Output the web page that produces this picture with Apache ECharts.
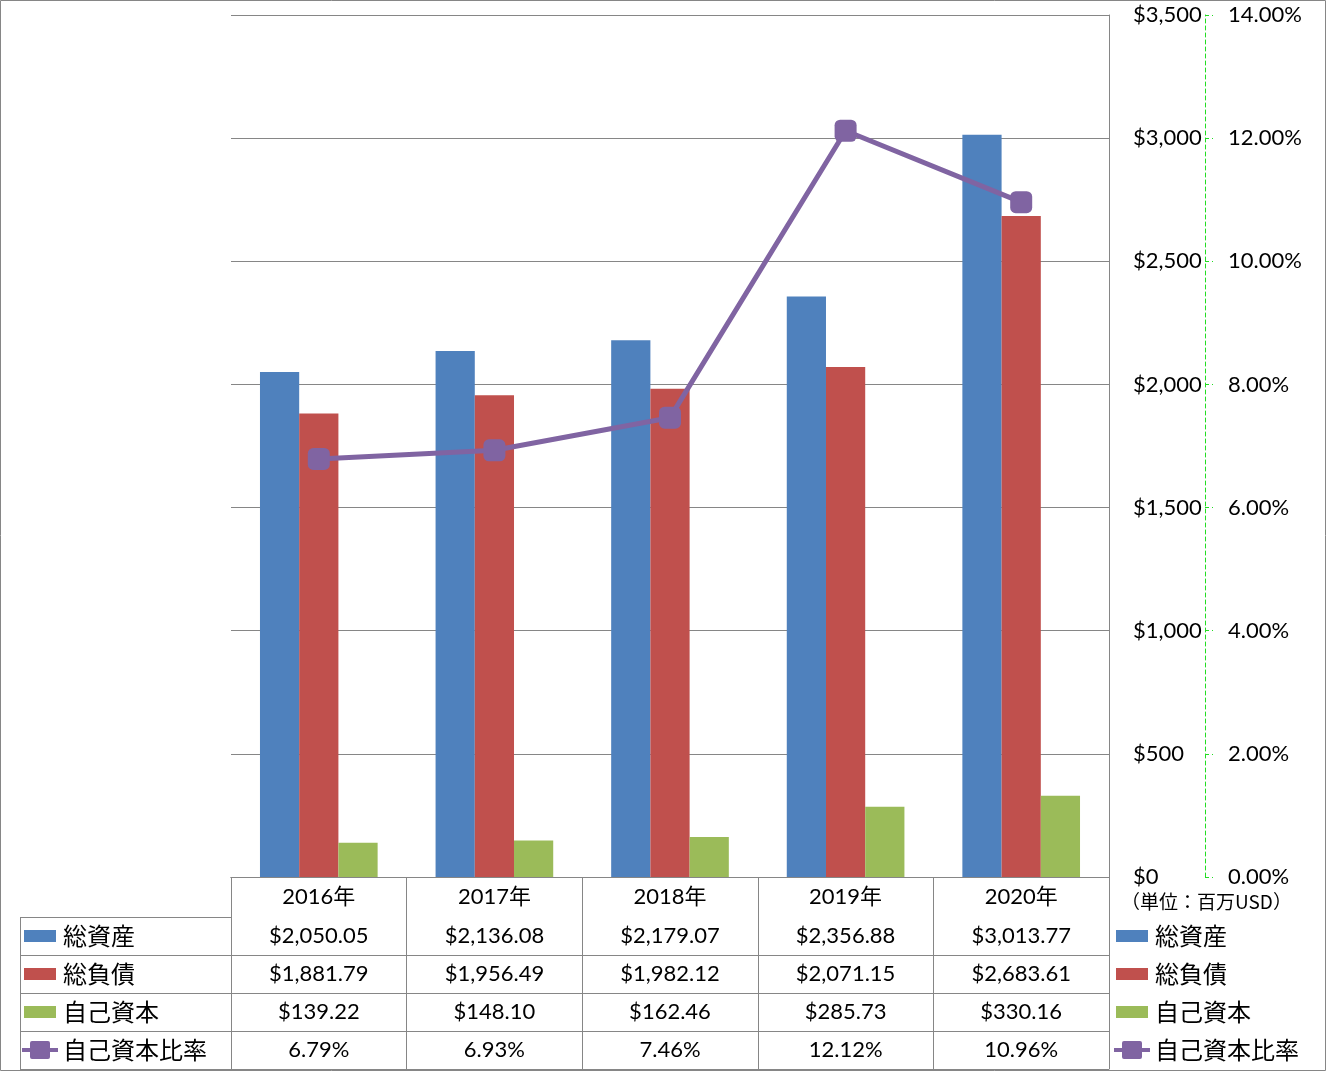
<!DOCTYPE html>
<html><head><meta charset="utf-8">
<script src="https://cdn.jsdelivr.net/npm/echarts@6/dist/echarts.min.js"></script>
<style>html,body{margin:0;padding:0;background:#fff}#c{width:1326px;height:1071px}</style>
</head><body><div id="c"></div>
<script>
const years = ['2016年','2017年','2018年','2019年','2020年'];
const totalAssets = [2050.05, 2136.08, 2179.07, 2356.88, 3013.77];
const totalLiabilities = [1881.79, 1956.49, 1982.12, 2071.15, 2683.61];
const equity = [139.22, 148.10, 162.46, 285.73, 330.16];
const equityRatio = [6.79, 6.93, 7.46, 12.12, 10.96];
const names = ['総資産','総負債','自己資本','自己資本比率'];
const unitText = '（単位：百万USD）';

const FONT = "Lato, 'Noto Sans CJK JP', sans-serif";
const JFONT = "'Noto Sans CJK JP', sans-serif";
const GRAY = '#868686';
const money = v => '$' + v.toLocaleString('en-US', {minimumFractionDigits: 2, maximumFractionDigits: 2});
const pct = v => v.toFixed(2) + '%';
const rows = [totalAssets.map(money), totalLiabilities.map(money), equity.map(money), equityRatio.map(pct)];

const chart = echarts.init(document.getElementById('c'));
const xBase = {
  type: 'category', data: years, position: 'bottom', gridIndex: 0,
  axisLine: {show: true, lineStyle: {color: GRAY, width: 1}},
  axisTick: {show: false},
  splitLine: {show: false}
};
const xAxes = [Object.assign({}, xBase, {
  axisTick: {show: true, length: 192, lineStyle: {color: GRAY, width: 1}},
  axisLabel: {fontFamily: FONT, fontSize: 22, color: '#000', margin: 20, verticalAlign: 'middle', interval: 0}
})];
rows.forEach((r, i) => {
  xAxes.push(Object.assign({}, xBase, {
    offset: 40 + 38 * i,
    axisLabel: {fontFamily: FONT, fontSize: 22, color: '#000', margin: 19, verticalAlign: 'middle', interval: 0,
      formatter: (v, idx) => r[idx]}
  }));
});
xAxes.push(Object.assign({}, xBase, {offset: 192, axisLabel: {show: false}}));

const gLines = [];
[917, 955, 993, 1031, 1069].forEach(y => gLines.push({type: 'line', shape: {x1: 20, y1: y + 0.5, x2: 232, y2: y + 0.5}, style: {stroke: GRAY, lineWidth: 1}}));
gLines.push({type: 'line', shape: {x1: 20.5, y1: 917, x2: 20.5, y2: 1070}, style: {stroke: GRAY, lineWidth: 1}});
gLines.push({type: 'rect', shape: {x: 0.5, y: 0.5, width: 1325, height: 1070}, style: {fill: 'none', stroke: GRAY, lineWidth: 1}});
gLines.push({type: 'text', left: 1121, top: 892, style: {text: unitText, fontFamily: JFONT, fontSize: 19, fill: '#000'}});

// icon paths (36x20 box); tiny corner marks keep the bounding box fixed
const barIcon = 'path://M0,0L0.01,0L0,0.01Z M36,20L35.99,20L36,19.99Z M2,4L34,4L34,16L2,16Z';
const lineIcon = 'path://M0,0L0.01,0L0,0.01Z M36,20L35.99,20L36,19.99Z M0,8L8,8L8,3Q8,1 10,1L26,1Q28,1 28,3L28,8L36,8L36,12L28,12L28,17Q28,19 26,19L10,19Q8,19 8,17L8,12L0,12Z';
const legendData = names.map((n, i) => ({name: n, icon: i < 3 ? barIcon : lineIcon}));

const legendBase = {
  orient: 'vertical', itemWidth: 36, itemHeight: 20, itemGap: 14, padding: 0, height: 200,
  textStyle: {fontFamily: JFONT, fontSize: 24, color: '#000', lineHeight: 24},
  selectedMode: false, data: legendData
};

chart.setOption({
  animation: false,
  grid: {left: 231, right: 217, top: 15, bottom: 194, containLabel: false},
  xAxis: xAxes,
  yAxis: [
    {type: 'value', position: 'right', offset: 0, min: 0, max: 3500, interval: 500,
      axisLine: {show: true, lineStyle: {color: GRAY, width: 1}},
      axisTick: {show: false},
      axisLabel: {fontFamily: FONT, fontSize: 22, color: '#000', margin: 24,
        formatter: v => '$' + v.toLocaleString('en-US')},
      splitLine: {show: true, lineStyle: {color: GRAY, width: 1}}},
    {type: 'value', position: 'right', offset: 96, min: 0, max: 14, interval: 2,
      axisLine: {show: true, lineStyle: {color: '#22dd22', width: 1, type: [4, 3]}},
      axisTick: {show: true, length: 8, inside: false, lineStyle: {color: '#22dd22', width: 1, type: [4, 3]}},
      axisLabel: {fontFamily: FONT, fontSize: 22, color: '#000', margin: 23, formatter: v => v.toFixed(2) + '%'},
      splitLine: {show: false}}
  ],
  legend: [
    Object.assign({}, legendBase, {left: 22, top: 924}),
    Object.assign({}, legendBase, {left: 1114, top: 924})
  ],
  graphic: gLines,
  series: [
    {name: names[0], type: 'bar', data: totalAssets, barGap: '0%', barCategoryGap: '33%', itemStyle: {color: '#4F81BD'}},
    {name: names[1], type: 'bar', data: totalLiabilities, itemStyle: {color: '#C0504D'}},
    {name: names[2], type: 'bar', data: equity, itemStyle: {color: '#9BBB59'}},
    {name: names[3], type: 'line', yAxisIndex: 1, data: equityRatio, z: 5,
      symbol: 'roundRect', symbolSize: 22,
      lineStyle: {color: '#8064A2', width: 5}, itemStyle: {color: '#8064A2'}}
  ]
});
</script></body></html>
